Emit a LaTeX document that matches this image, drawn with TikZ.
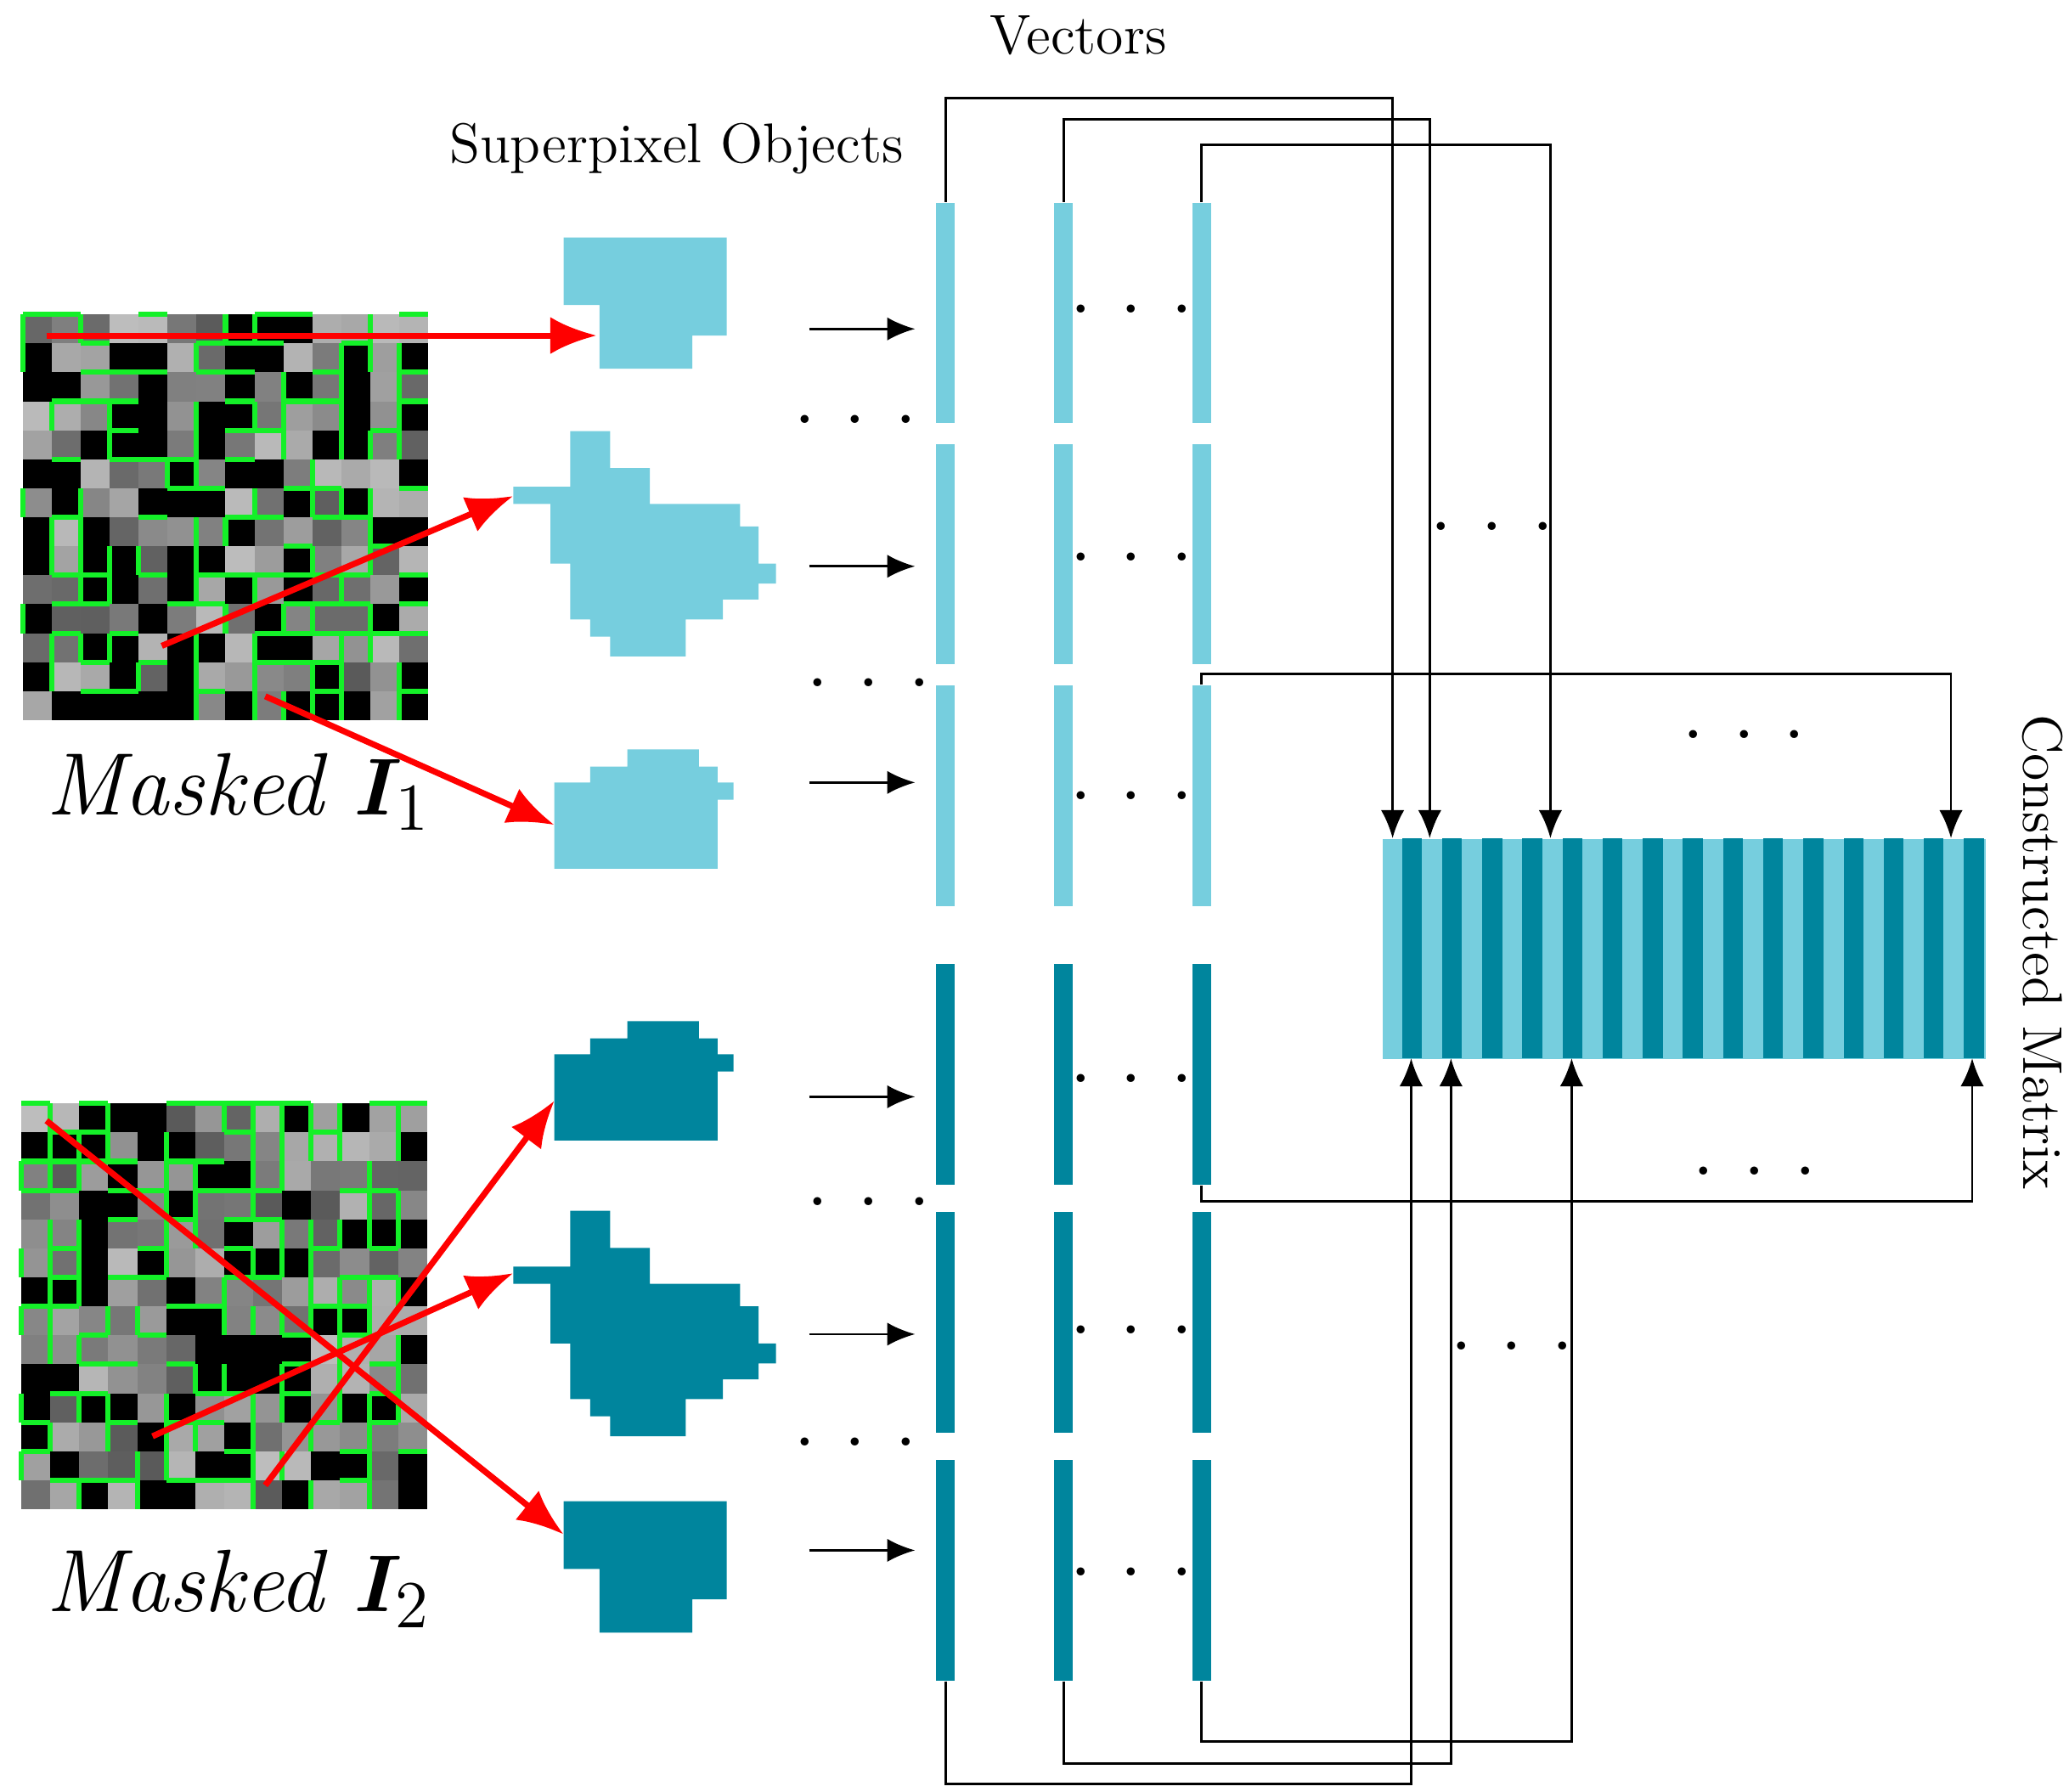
\documentclass[tikz,border=0pt]{standalone}
\usepackage{tikz}
\usepackage{amsmath,bm}
\usetikzlibrary{arrows.meta,calc}
\definecolor{lblue}{RGB}{118,206,222}
\definecolor{dteal}{RGB}{0,133,157}
\definecolor{sgreen}{RGB}{20,240,40}
\tikzset{
  vbar/.style={draw=none,minimum width=0.14cm,minimum height=1.66cm,inner sep=0pt},
  small/.style={-{Latex[length=6pt,width=5pt]},line width=0.5pt},
  link/.style={-{Latex[length=6pt,width=5pt]},line width=0.5pt},
  red/.style={draw=red,line width=1.3pt,-{Latex[length=10pt,width=8pt]}},
  dots/.style={font=\large\bfseries,inner sep=0pt},
}
% masked image texture: #1,#2 = upper-left corner
\newcommand{\maskedtex}[2]{%
  \begin{scope}[shift={(#1,#2)}]
    \fill[black] (0,0) rectangle (306,306);
    \foreach \i in {0,...,13}{\foreach \j in {0,...,13}{
      \pgfmathsetmacro{\r}{rnd}
      \pgfmathsetmacro{\g}{int(90+100*rnd)}
      \ifdim\r pt>0.38pt
        \definecolor{cc}{RGB}{\g,\g,\g}
        \fill[cc] (\i*21.86,\j*21.86) rectangle ++(21.86,21.86);
      \fi
    }}
    \foreach \i in {0,...,13}{\foreach \j in {0,...,13}{
      \pgfmathsetmacro{\a}{rnd}
      \pgfmathsetmacro{\b}{rnd}
      \ifdim\a pt>0.55pt
        \draw[sgreen,line width=1.1pt] (\i*21.86,\j*21.86) -- ++(21.86,0);
      \fi
      \ifdim\b pt>0.55pt
        \draw[sgreen,line width=1.1pt] (\i*21.86,\j*21.86) -- ++(0,21.86);
      \fi
    }}
  \end{scope}}
\newcommand{\shapeA}[2]{\fill[#1] (425,179+#2) -- (548,179+#2) -- (548,253+#2) -- (522,253+#2) -- (522,278+#2) -- (452,278+#2) -- (452,230+#2) -- (425,230+#2) -- cycle;}
\newcommand{\shapeB}[2]{\fill[#1] (430,325+#2) -- (460,325+#2) -- (460,353+#2) -- (490,353+#2) -- (490,380+#2) -- (558,380+#2) -- (558,397+#2) -- (572,397+#2) -- (572,425+#2) -- (585,425+#2) -- (585,440+#2) -- (572,440+#2) -- (572,452+#2) -- (545,452+#2) -- (545,467+#2) -- (517,467+#2) -- (517,495+#2) -- (460,495+#2) -- (460,480+#2) -- (445,480+#2) -- (445,467+#2) -- (430,467+#2) -- (430,425+#2) -- (415,425+#2) -- (415,380+#2) -- (387,380+#2) -- (387,367+#2) -- (430,367+#2) -- cycle;}
\newcommand{\shapeC}[2]{\fill[#1] (473,565+#2) -- (527,565+#2) -- (527,578+#2) -- (541,578+#2) -- (541,590+#2) -- (553,590+#2) -- (553,603+#2) -- (541,603+#2) -- (541,655+#2) -- (418,655+#2) -- (418,590+#2) -- (445,590+#2) -- (445,578+#2) -- (473,578+#2) -- cycle;}
\begin{document}
\begin{tikzpicture}[x=0.01cm,y=-0.01cm]
\useasboundingbox (0,0) rectangle (1560,1351);
\pgfmathsetseed{7}

% titles
\node (tv) at (813,27) {\large Vectors};
\node (ts) at (510,112) {\large Superpixel Objects};
\node[rotate=-90] (tm) at (1540,718) {\large Constructed Matrix};

% masked images
\maskedtex{17}{237}
\maskedtex{16}{832}
\node (m1) at (180,597) {\fontsize{19}{23}\selectfont\itshape Masked $\bm{I}_{1}$};
\node (m2) at (180,1198) {\fontsize{19}{23}\selectfont\itshape Masked $\bm{I}_{2}$};

% superpixel objects
\shapeA{lblue}{0}
\shapeB{lblue}{0}
\shapeC{lblue}{0}
\shapeC{dteal}{205}
\shapeB{dteal}{588}
\shapeA{dteal}{953}

% red arrows
\coordinate (r1a) at (35,253);  \coordinate (r1b) at (450,253);
\coordinate (r2a) at (122,487); \coordinate (r2b) at (387,374);
\coordinate (r3a) at (200,525); \coordinate (r3b) at (418,622);
\coordinate (r4a) at (35,845);  \coordinate (r4b) at (425,1157);
\coordinate (r5a) at (115,1083);\coordinate (r5b) at (387,960);
\coordinate (r6a) at (200,1120);\coordinate (r6b) at (418,830);
\foreach \k in {1,...,6}{\draw[red] (r\k a) -- (r\k b);}

% vector bars
\foreach \c/\x in {1/713,2/802,3/906}{
  \foreach \r/\y/\col in {1/236/lblue,2/418/lblue,3/600/lblue,4/810/dteal,5/997/dteal,6/1184/dteal}{
    \node[vbar,fill=\col] (b\r\c) at (\x,\y) {};
  }}

% small arrows
\foreach \r/\y in {1/248,2/427,3/590,4/827,5/1006,6/1169}{
  \coordinate (sa\r) at (610,\y); \coordinate (sb\r) at (690,\y);
  \draw[small] (sa\r) -- (sb\r);
}

% dots
\foreach \n/\x/\y in {d1/853/233,d2/853/420,d3/853/600,d4/853/813,d5/853/1003,d6/853/1185,d7/645/316,d8/655/515,d9/655/906,d10/645/1087,d11/1125/397,d12/1140/1015,d13/1315/554,d14/1323/883}{
  \node[dots,anchor=base] (\n) at (\x,\y+3) {.\hspace{0.25cm}.\hspace{0.25cm}.};
}

% constructed matrix
\node[draw=none,fill=lblue,minimum width=4.54cm,minimum height=1.66cm,inner sep=0pt,anchor=north west] (mat) at (1042,632) {};
\foreach \k in {0,...,14}{\fill[dteal] (1057+\k*30.27,632) rectangle ++(15,166);}

% connectors top
\coordinate (t1) at (1050,632); \coordinate (t2) at (1078,632);
\coordinate (t3) at (1169,632); \coordinate (t4) at (1471,632);
\draw[link] (b11.north) |- (1050,74) -- (t1);
\draw[link] (b12.north) |- (1078,90) -- (t2);
\draw[link] (b13.north) |- (1169,109) -- (t3);
\draw[link] (b33.north) |- (1471,508) -- (t4);
% connectors bottom
\coordinate (u1) at (1064,798); \coordinate (u2) at (1094,798);
\coordinate (u3) at (1185,798); \coordinate (u4) at (1487,798);
\draw[link] (b61.south) |- (1064,1345) -- (u1);
\draw[link] (b62.south) |- (1094,1330) -- (u2);
\draw[link] (b63.south) |- (1185,1313) -- (u3);
\draw[link] (b43.south) |- (1487,906) -- (u4);
\end{tikzpicture}
\end{document}
